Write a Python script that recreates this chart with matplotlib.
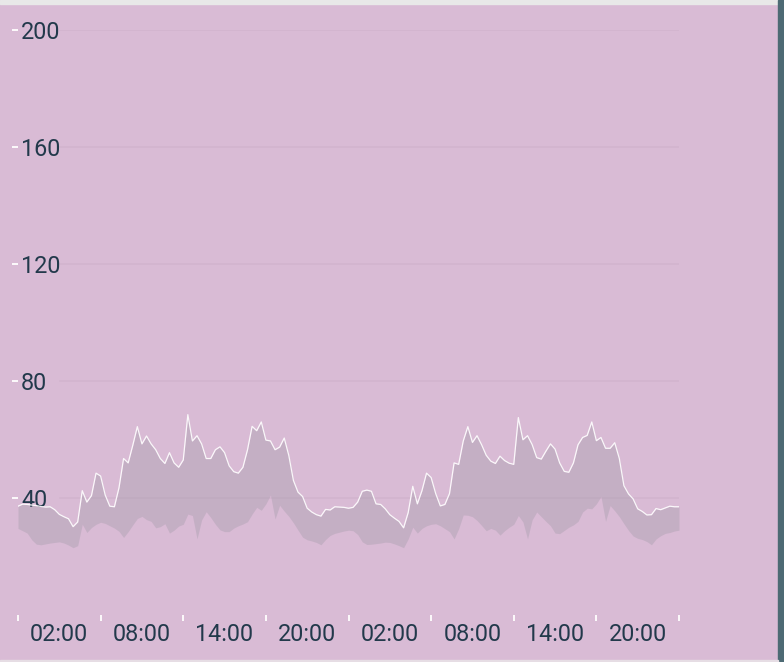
import numpy as np
import matplotlib
matplotlib.use("Agg")
import matplotlib.pyplot as plt
from matplotlib.patches import Rectangle

# readings every 20 minutes, first day (00:00 .. 24:00 on the axis)
day1_upper = [37.2, 37.9, 37.8, 37.6, 37.4, 37.1, 36.9, 37.0, 36.0, 34.4,
              33.6, 32.9, 30.2, 31.8, 42.5, 38.6, 40.8, 48.5, 47.5, 41.0,
              37.2, 37.0, 43.5, 53.5, 52.0, 58.0, 64.4, 58.5, 61.2, 58.5,
              56.5, 53.5, 51.8, 55.5, 52.0, 50.5, 53.0, 68.5, 59.5, 61.3,
              58.5, 53.5, 53.5, 56.5, 57.5, 55.5, 51.0, 49.0, 48.5, 50.5,
              56.5, 64.5, 63.0, 66.0, 59.8, 59.5, 56.5, 57.4, 60.5, 54.5,
              46.0, 42.0, 40.5, 36.5, 35.2, 34.3, 33.8, 36.1, 35.9, 37.0,
              36.9, 36.8, 36.5]
day1_lower = [29.6, 28.8, 28.0, 25.7, 24.2, 24.0, 24.3, 24.6, 24.8, 25.0,
              24.6, 23.9, 23.0, 23.7, 31.0, 28.2, 29.9, 31.0, 31.7, 31.3,
              30.5, 29.7, 28.6, 26.5, 28.5, 30.8, 33.0, 33.7, 32.6, 32.0,
              29.8, 30.2, 31.2, 28.0, 29.0, 30.4, 31.0, 34.5, 34.0, 26.0,
              32.5, 35.3, 33.3, 31.0, 29.1, 28.5, 28.5, 29.7, 30.5, 31.1,
              31.9, 34.5, 36.8, 35.8, 38.0, 41.0, 32.8, 37.5, 35.5, 33.7,
              31.5, 29.0, 26.6, 25.7, 25.3, 24.8, 24.0, 25.8, 27.2, 27.9,
              28.3, 28.7, 29.0]

# second day (00:20 .. 24:00)
day2_upper = [36.8, 38.6, 42.3, 42.7, 42.3, 38.0, 37.8, 36.3, 34.3, 33.1,
              32.0, 29.8, 35.0, 44.0, 38.0, 42.5, 48.5, 47.0, 41.5, 37.3,
              37.8, 41.5, 52.0, 51.5, 59.5, 64.4, 59.0, 61.3, 58.2, 54.6,
              52.6, 51.8, 54.3, 52.8, 51.9, 51.5, 67.5, 59.9, 61.3, 58.3,
              53.8, 53.3, 56.0, 58.5, 56.7, 52.0, 49.1, 48.8, 52.0, 58.2,
              60.7, 61.4, 66.0, 59.6, 60.7, 57.0, 57.0, 58.9, 53.5, 44.2,
              41.4, 39.7, 36.3, 35.4, 34.2, 34.3, 36.4, 36.0, 36.6, 37.2,
              37.0, 37.0]
day2_lower = [28.8, 27.5, 25.0, 24.1, 24.2, 24.4, 24.6, 24.9, 24.8, 24.3,
              23.7, 23.0, 26.0, 30.0, 28.0, 29.6, 30.5, 31.0, 31.2, 30.5,
              29.5, 28.5, 26.0, 29.5, 34.2, 34.1, 33.6, 32.3, 30.6, 28.8,
              29.6, 29.0, 27.3, 28.8, 30.0, 31.0, 34.0, 31.8, 26.0, 32.5,
              35.2, 33.6, 32.0, 30.5, 28.0, 27.8, 28.9, 30.0, 30.8, 32.0,
              35.2, 36.5, 36.3, 38.0, 40.5, 32.0, 37.4, 35.6, 33.6, 31.2,
              28.9, 27.0, 26.2, 25.8, 25.1, 24.0, 26.0, 27.1, 27.9, 28.2,
              28.7, 29.0]

time_labels = ["02:00", "08:00", "14:00", "20:00", "02:00", "08:00", "14:00", "20:00"]
y_ticks = [40, 80, 120, 160, 200]

upper = np.array(day1_upper + day2_upper)
lower = np.array(day1_lower + day2_lower)
hours = np.arange(len(upper)) / 3.0

bg = "#D9BBD5"
text_col = "#22394B"

fig = plt.figure(figsize=(7.84, 6.62), dpi=100, facecolor=bg)
ax = fig.add_axes([18 / 784, 47 / 662, 661 / 784, 585 / 662])
ax.set_facecolor(bg)

# grid lines (start just after the y labels)
for v in y_ticks:
    ax.axhline(v, xmin=0.063, xmax=1.0, color="#D3B5CF", lw=1.3, zorder=0)

ax.fill_between(hours, lower, upper, color="#9C97A4", alpha=0.33, lw=0, zorder=2)
ax.plot(hours, upper, color="white", lw=0.9, alpha=0.9, zorder=3)

ax.set_xlim(0, 48)
ax.set_ylim(0, 200)

for s in ax.spines.values():
    s.set_visible(False)

# x axis: tick marks every 6 h, labels centred between them
ax.set_xticks(np.arange(0, 49, 6))
ax.set_xticklabels([])
ax.set_xticks(np.arange(3, 48, 6), minor=True)
ax.set_xticklabels(time_labels, minor=True)
ax.tick_params(axis="x", which="major", direction="out", length=4.3, width=1.3,
               color="white")
ax.tick_params(axis="x", which="minor", length=0, pad=5.5, labelsize=16.8,
               labelcolor=text_col)
for t in ax.get_xticklabels(minor=True):
    t.set_fontfamily("Roboto")

# y axis: labels sit inside the plot, left aligned
ax.set_yticks(y_ticks)
ax.set_yticklabels([str(v) for v in y_ticks])
ax.tick_params(axis="y", direction="out", length=4.3, width=1.3, color="white",
               pad=-6.5, labelsize=16.8, labelcolor=text_col)
for t in ax.get_yticklabels():
    t.set_horizontalalignment("left")
    t.set_fontfamily("Roboto")

# page frame bits around the chart
fig.patches.append(Rectangle((0, 1 - 4 / 662), 1, 4 / 662, transform=fig.transFigure,
                             color="#E8E8E8", zorder=-1))
fig.patches.append(Rectangle((778 / 784, 0), 6 / 784, 1, transform=fig.transFigure,
                             color="#4D6A74", zorder=-1))
fig.patches.append(Rectangle((0, 0), 778 / 784, 2 / 662, transform=fig.transFigure,
                             color="#E6DDE4", zorder=-1))

fig.savefig("out.png", dpi=100, facecolor=bg)
